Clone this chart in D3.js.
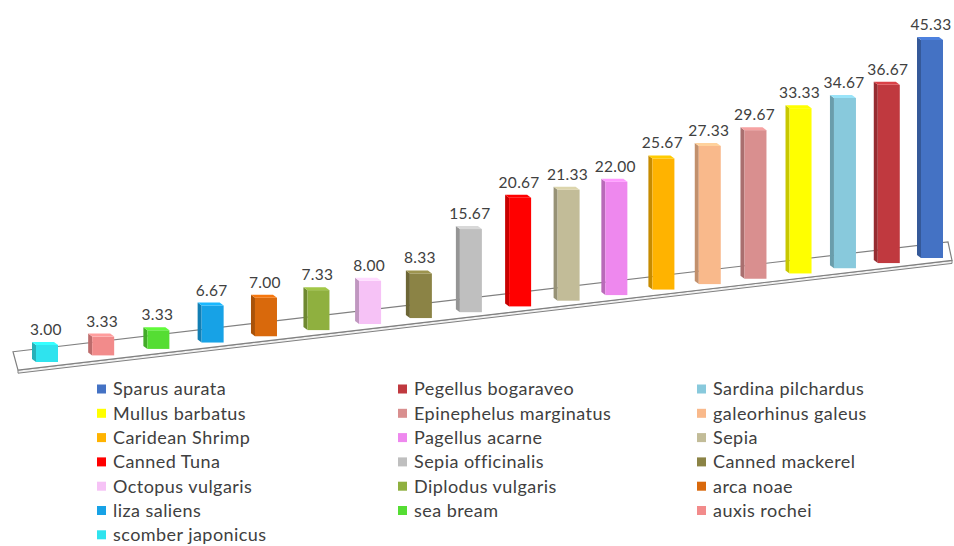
<!DOCTYPE html>
<html>
<head>
<meta charset="utf-8">
<script src="https://cdn.jsdelivr.net/npm/d3@7"></script>
<style>
  html, body { margin: 0; padding: 0; background: #fff; }
  svg { display: block; }
</style>
</head>
<body>
<figure id="chart" style="margin:0"></figure>
<script>
// bars, left to right
const species = [
  "scomber japonicus", "auxis rochei", "sea bream", "liza saliens", "arca noae",
  "Diplodus vulgaris", "Octopus vulgaris", "Canned mackerel", "Sepia officinalis",
  "Canned Tuna", "Sepia", "Pagellus acarne", "Caridean Shrimp", "galeorhinus galeus",
  "Epinephelus marginatus", "Mullus barbatus", "Sardina pilchardus",
  "Pegellus bogaraveo", "Sparus aurata"
];
const values = [
  3.00, 3.33, 3.33, 6.67, 7.00, 7.33, 8.00, 8.33, 15.67, 20.67,
  21.33, 22.00, 25.67, 27.33, 29.67, 33.33, 34.67, 36.67, 45.33
];
const colors = [
  "#2fe3ee", "#f28b8b", "#55dd33", "#17a2e6", "#d9690c",
  "#8fb03f", "#f6c2f6", "#8b8345", "#bfbfbf", "#ff0000",
  "#c2bc98", "#ee88ee", "#ffb300", "#f9b98b", "#d98f8f",
  "#ffff00", "#88c9dc", "#c0393f", "#4472c4"
];
// legend lists largest first
const legendOrder = d3.range(species.length).reverse();

const width = 954, height = 546;
const n = values.length;

const svg = d3.select("#chart").append("svg")
  .attr("width", width)
  .attr("height", height);

// perspective: bars get closer together and shorter towards the right
const depth = d3.scaleLinear().domain([0, n - 1]).range([1, 1.32]);
const x = d3.scaleLog().domain([1, 1.32]).range([45, 930]);
const shrink = d3.scaleLinear().domain([0, n - 1]).range([1, 0.844]);
const y = d3.scaleLinear().domain([0, 50]).range([0, 285]);
const floorY = d3.scaleLinear().domain([45, 930]).range([362, 258]);

const cx = i => x(depth(i));
const barW = 22, dx = 4, dy = 3;

// floor slab
const fl = 13, fr = 948;
const floorPts = [
  [fl, floorY(fl) - 14], [fr, floorY(fr) - 14],
  [fr + 4, floorY(fr + 4) + 5], [fl + 5, floorY(fl + 5) + 5]
];
svg.append("polygon")
  .attr("points", [
    floorPts[3], floorPts[2],
    [floorPts[2][0], floorPts[2][1] + 3], [floorPts[3][0], floorPts[3][1] + 3]
  ].join(" "))
  .style("fill", "#f2f2f2")
  .style("stroke", "#808080")
  .style("stroke-width", 1);
svg.append("polygon")
  .attr("points", floorPts.join(" "))
  .style("fill", "#ffffff")
  .style("stroke", "#808080")
  .style("stroke-width", 1.2);

const bars = svg.append("g").selectAll("g")
  .data(values.map((v, i) => ({ v, i, name: species[i], color: colors[i] })))
  .join("g");

const geom = d => {
  const c = cx(d.i);
  const x0 = c - barW / 2 + dx / 2;
  const base = floorY(c);
  const top = base - y(d.v) * shrink(d.i);
  return { x0, base, top, c };
};

// left side face
bars.append("polygon")
  .attr("points", d => {
    const g = geom(d);
    return [[g.x0, g.top], [g.x0, g.base], [g.x0 - dx, g.base - dy], [g.x0 - dx, g.top - dy]].join(" ");
  })
  .style("fill", d => d3.color(d.color).darker(0.7));

// front face
bars.append("rect")
  .attr("x", d => geom(d).x0)
  .attr("y", d => geom(d).top)
  .attr("width", barW)
  .attr("height", d => geom(d).base - geom(d).top)
  .style("fill", d => d.color);

// top face
bars.append("polygon")
  .attr("points", d => {
    const g = geom(d);
    return [[g.x0, g.top], [g.x0 + barW, g.top], [g.x0 + barW - dx, g.top - dy], [g.x0 - dx, g.top - dy]].join(" ");
  })
  .style("fill", d => d3.color(d.color).brighter(0.35));

// value labels
bars.append("text")
  .attr("x", d => geom(d).c + 1)
  .attr("y", d => geom(d).top - dy - 7)
  .attr("text-anchor", "middle")
  .style("font-family", "Lato, 'Open Sans', sans-serif")
  .style("font-size", "15.5px")
  .style("letter-spacing", "0.3px")
  .style("fill", "#404040")
  .text(d => d.v.toFixed(2));

// legend, 3 columns
const colX = [97, 398, 697];
const rowY = d3.scaleLinear().domain([0, 1]).range([389, 413.3]);
const legend = svg.append("g").selectAll("g")
  .data(legendOrder)
  .join("g")
  .attr("transform", (b, k) => `translate(${colX[k % 3]},${rowY(Math.floor(k / 3))})`);

legend.append("rect")
  .attr("x", 0)
  .attr("y", -4.5)
  .attr("width", 9)
  .attr("height", 9)
  .style("fill", b => colors[b]);

legend.append("text")
  .attr("x", 16)
  .attr("y", 0)
  .attr("dy", "0.35em")
  .style("font-family", "Lato, 'Open Sans', sans-serif")
  .style("font-size", "18px")
  .style("letter-spacing", "0.45px")
  .style("fill", "#404040")
  .text(b => species[b]);
</script>
</body>
</html>
